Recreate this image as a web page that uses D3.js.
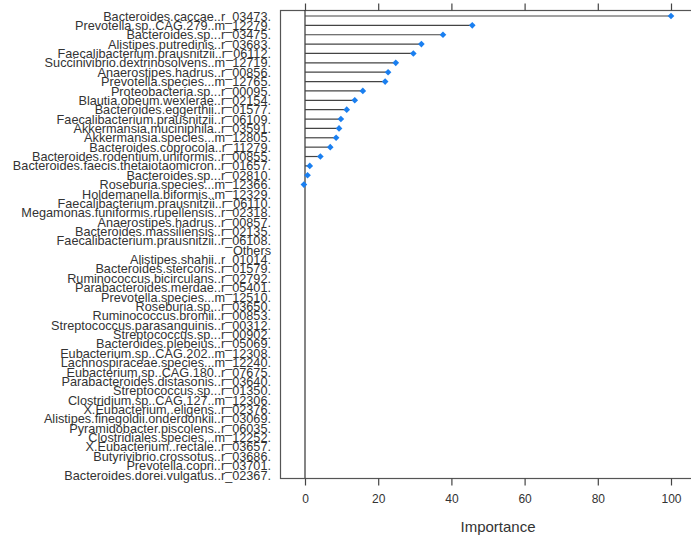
<!DOCTYPE html>
<html>
<head>
<meta charset="utf-8">
<script src="https://cdn.jsdelivr.net/npm/d3@7"></script>
<style>
  body { margin: 0; background: #fff; }
  svg { display: block; font-family: "Liberation Sans", Arial, sans-serif; }
</style>
</head>
<body>
<svg id="chart" width="691" height="538"></svg>
<script>
const features = [
  "Bacteroides.caccae..r_03473.",
  "Prevotella.sp..CAG.279..m_12279.",
  "Bacteroides.sp...r_03475.",
  "Alistipes.putredinis..r_03683.",
  "Faecalibacterium.prausnitzii..r_06112.",
  "Succinivibrio.dextrinosolvens..m_12719.",
  "Anaerostipes.hadrus..r_00856.",
  "Prevotella.species...m_12765.",
  "Proteobacteria.sp...r_00095.",
  "Blautia.obeum.wexlerae..r_02154.",
  "Bacteroides.eggerthii..r_01577.",
  "Faecalibacterium.prausnitzii..r_06109.",
  "Akkermansia.muciniphila..r_03591.",
  "Akkermansia.species...m_12805.",
  "Bacteroides.coprocola..r_11279.",
  "Bacteroides.rodentium.uniformis..r_00855.",
  "Bacteroides.faecis.thetaiotaomicron..r_01657.",
  "Bacteroides.sp...r_02810.",
  "Roseburia.species...m_12366.",
  "Holdemanella.biformis..m_12329.",
  "Faecalibacterium.prausnitzii..r_06110.",
  "Megamonas.funiformis.rupellensis..r_02318.",
  "Anaerostipes.hadrus..r_00857.",
  "Bacteroides.massiliensis..r_02135.",
  "Faecalibacterium.prausnitzii..r_06108.",
  "Others",
  "Alistipes.shahii..r_01014.",
  "Bacteroides.stercoris..r_01579.",
  "Ruminococcus.bicirculans..r_02792.",
  "Parabacteroides.merdae..r_05401.",
  "Prevotella.species...m_12510.",
  "Roseburia.sp...r_03650.",
  "Ruminococcus.bromii..r_00853.",
  "Streptococcus.parasanguinis..r_00312.",
  "Streptococcus.sp...r_00902.",
  "Bacteroides.plebeius..r_05069.",
  "Eubacterium.sp..CAG.202..m_12308.",
  "Lachnospiraceae.species...m_12240.",
  "Eubacterium.sp..CAG.180..r_07675.",
  "Parabacteroides.distasonis..r_03640.",
  "Streptococcus.sp...r_01350.",
  "Clostridium.sp..CAG.127..m_12306.",
  "X.Eubacterium..eligens..r_02376.",
  "Alistipes.finegoldii.onderdonkii..r_03069.",
  "Pyramidobacter.piscolens..r_06035.",
  "Clostridiales.species...m_12252.",
  "X.Eubacterium..rectale..r_03657.",
  "Butyrivibrio.crossotus..r_03686.",
  "Prevotella.copri..r_03701.",
  "Bacteroides.dorei.vulgatus..r_02367."
];
// only the first 19 features have a drawn importance; the rest show nothing
const importance = [
  100, 45.7, 37.7, 31.8, 29.6, 24.8, 22.7, 21.9, 15.8, 13.6,
  11.4, 9.8, 9.3, 8.5, 6.9, 4.2, 1.3, 0.7, -0.3,
  null, null, null, null, null, null, null, null, null, null, null,
  null, null, null, null, null, null, null, null, null, null,
  null, null, null, null, null, null, null, null, null, null
];
const xTicks = [0, 20, 40, 60, 80, 100];

const data = features.map((f, i) => ({ name: f, value: importance[i] }));
const svg = d3.select("#chart");

const box = { left: 280, right: 700, top: 10, bottom: 478 };
const x = d3.scaleLinear().domain([0, 100]).range([305, 671]);
const y = d3.scalePoint().domain(features).range([16, 475]);

// plot frame
svg.append("rect")
  .attr("x", box.left + 0.5).attr("y", box.top + 0.5)
  .attr("width", box.right - box.left).attr("height", box.bottom - box.top)
  .attr("fill", "none").attr("stroke", "#555").attr("stroke-width", 1.2);

// zero reference line
svg.append("line")
  .attr("x1", x(0)).attr("x2", x(0))
  .attr("y1", box.top).attr("y2", box.bottom)
  .attr("stroke", "#333").attr("stroke-width", 1.2);

// bottom axis
const xAxis = svg.append("g")
  .attr("transform", `translate(0,${box.bottom + 0.5})`)
  .call(d3.axisBottom(x).tickValues(xTicks).tickSize(7).tickPadding(9));
xAxis.select(".domain").remove();
xAxis.selectAll("line").attr("stroke", "#444").attr("stroke-width", 1.2);
xAxis.selectAll("text").attr("fill", "#333").style("font-size", "12px")
  .style("font-family", "'Liberation Sans', Arial, sans-serif");

// top axis ticks (no labels)
const xTop = svg.append("g")
  .attr("transform", `translate(0,${box.top + 0.5})`)
  .call(d3.axisTop(x).tickValues(xTicks).tickSize(7).tickFormat(""));
xTop.select(".domain").remove();
xTop.selectAll("line").attr("stroke", "#444").attr("stroke-width", 1.2);

// feature labels
const yAxis = svg.append("g")
  .attr("transform", `translate(${box.left},0)`)
  .call(d3.axisLeft(y).tickSize(0).tickPadding(9));
yAxis.select(".domain").remove();
yAxis.selectAll("text").attr("fill", "#333").style("font-size", "12.7px")
  .style("font-family", "'Liberation Sans', Arial, sans-serif");

// lollipop segments
const shown = data.filter(d => d.value !== null);
svg.selectAll(".seg")
  .data(shown)
  .enter()
  .append("line")
  .attr("class", "seg")
  .attr("x1", x(0))
  .attr("x2", d => x(d.value))
  .attr("y1", d => y(d.name))
  .attr("y2", d => y(d.name))
  .attr("stroke", "#444")
  .attr("stroke-width", 1.2);

svg.selectAll(".pt")
  .data(shown)
  .enter()
  .append("path")
  .attr("class", "pt")
  .attr("d", d3.symbol(d3.symbolSquare, 22))
  .attr("transform", d => `translate(${x(d.value)},${y(d.name)}) rotate(45)`)
  .attr("fill", "#1a7ff0");

// axis title
svg.append("text")
  .attr("x", (x(0) + x(100)) / 2 + 10)
  .attr("y", 532)
  .attr("text-anchor", "middle")
  .attr("fill", "#333")
  .style("font-size", "15px")
  .text("Importance");
</script>
</body>
</html>
